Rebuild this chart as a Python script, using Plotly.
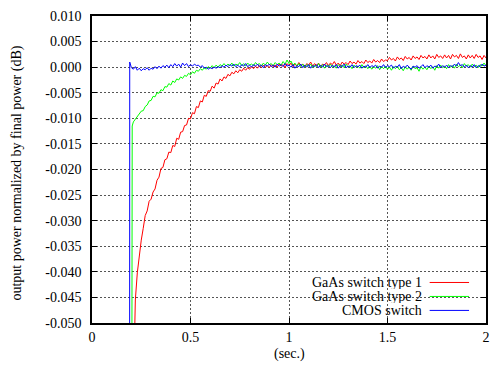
import numpy as np
import plotly.graph_objects as go

# common sample grid (s)
grid_t = list(np.round(np.arange(0.21, 2.0001, 0.01), 2))

# GaAs switch type 1 (red): onset + values on grid 0.22..2.00
gaas1_onset_t = [0.212]
gaas1_onset_v = [-0.0600]
gaas1_v = [
    -0.0455, -0.0402, -0.0368, -0.0338, -0.0315, -0.0290, -0.0281, -0.0262, -0.0258, -0.0244,
    -0.0238, -0.0221, -0.0215, -0.0198, -0.0196, -0.0181, -0.0179, -0.0166, -0.0167, -0.0153,
    -0.0155, -0.0139, -0.0141, -0.0127, -0.0126, -0.0114, -0.0113, -0.0100, -0.0101, -0.0089,
    -0.0091, -0.0077, -0.0079, -0.0066, -0.0068, -0.0055, -0.0057, -0.0046, -0.0047, -0.0037,
    -0.0041, -0.0031, -0.0033, -0.0023, -0.0027, -0.0019, -0.0022, -0.0014, -0.0017, -0.0010,
    -0.0013, -0.0007, -0.0011, -0.0005, -0.0008, -0.0002, -0.0006, -0.0001, -0.0004, 0.0001,
    -0.0003, 0.0002, -0.0002, 0.0003, -0.0001, 0.0004, 0.0000, 0.0003, -0.0001, 0.0005,
    0.0001, 0.0004, 0.0000, 0.0006, 0.0002, 0.0005, -0.0001, 0.0007, 0.0003, 0.0008,
    0.0001, 0.0006, 0.0002, 0.0009, 0.0003, 0.0006, 0.0000, 0.0007, 0.0004, 0.0010,
    0.0002, 0.0007, 0.0003, 0.0008, 0.0001, 0.0006, 0.0004, 0.0009, 0.0003, 0.0008,
    0.0005, 0.0011, 0.0004, 0.0008, 0.0003, 0.0010, 0.0006, 0.0009, 0.0005, 0.0012,
    0.0007, 0.0010, 0.0006, 0.0013, 0.0008, 0.0011, 0.0007, 0.0014, 0.0009, 0.0012,
    0.0008, 0.0015, 0.0010, 0.0013, 0.0009, 0.0016, 0.0011, 0.0014, 0.0013, 0.0019,
    0.0014, 0.0017, 0.0012, 0.0020, 0.0015, 0.0018, 0.0013, 0.0021, 0.0016, 0.0019,
    0.0014, 0.0022, 0.0017, 0.0020, 0.0015, 0.0023, 0.0018, 0.0021, 0.0016, 0.0024,
    0.0018, 0.0022, 0.0016, 0.0025, 0.0019, 0.0022, 0.0017, 0.0024, 0.0018, 0.0023,
    0.0016, 0.0025, 0.0020, 0.0023, 0.0017, 0.0026, 0.0019, 0.0022, 0.0016, 0.0024,
    0.0018, 0.0023, 0.0017, 0.0025, 0.0019, 0.0022, 0.0015, 0.0023, 0.0018,
]

# GaAs switch type 2 (green): onset + values on grid 0.21..2.00
gaas2_onset_t = [0.2025, 0.204]
gaas2_onset_v = [-0.0600, -0.0115]
gaas2_v = [
    -0.0107, -0.0102, -0.0095, -0.0092, -0.0086, -0.0085, -0.0077, -0.0074, -0.0066, -0.0065,
    -0.0057, -0.0058, -0.0050, -0.0051, -0.0044, -0.0046, -0.0038, -0.0039, -0.0032, -0.0035,
    -0.0027, -0.0030, -0.0023, -0.0025, -0.0019, -0.0022, -0.0016, -0.0018, -0.0012, -0.0015,
    -0.0009, -0.0012, -0.0006, -0.0008, -0.0003, -0.0006, -0.0001, -0.0004, 0.0001, -0.0002,
    0.0003, -0.0001, 0.0004, 0.0000, 0.0005, 0.0002, 0.0007, 0.0002, 0.0006, 0.0003,
    0.0008, 0.0002, 0.0006, 0.0004, 0.0009, 0.0003, 0.0007, 0.0002, 0.0008, 0.0004,
    0.0006, 0.0003, 0.0009, 0.0005, 0.0007, 0.0002, 0.0008, 0.0004, 0.0010, 0.0005,
    0.0007, 0.0003, 0.0009, 0.0005, 0.0008, 0.0004, 0.0011, 0.0006, 0.0014, 0.0007,
    0.0012, 0.0004, 0.0008, 0.0002, 0.0007, 0.0001, 0.0006, 0.0000, 0.0005, 0.0002,
    0.0006, -0.0001, 0.0004, 0.0001, 0.0007, 0.0000, 0.0005, -0.0002, 0.0004, 0.0001,
    0.0006, 0.0000, 0.0003, -0.0002, 0.0005, 0.0001, 0.0004, -0.0001, 0.0006, 0.0000,
    0.0003, -0.0003, 0.0004, 0.0000, 0.0002, -0.0002, 0.0005, -0.0001, 0.0003, -0.0003,
    0.0002, -0.0004, 0.0001, -0.0002, 0.0003, -0.0005, 0.0001, -0.0003, 0.0002, -0.0004,
    0.0000, -0.0006, 0.0001, -0.0003, 0.0002, -0.0005, -0.0001, -0.0007, 0.0001, -0.0004,
    0.0000, -0.0006, 0.0002, -0.0003, -0.0001, -0.0008, 0.0001, -0.0004, 0.0000, -0.0005,
    0.0002, -0.0003, 0.0001, -0.0006, 0.0003, -0.0002, 0.0004, -0.0001, 0.0002, -0.0003,
    0.0005, 0.0000, 0.0003, -0.0002, 0.0006, 0.0001, 0.0004, -0.0001, 0.0007, 0.0002,
    0.0005, 0.0000, 0.0006, 0.0001, 0.0004, -0.0001, 0.0005, 0.0002, 0.0008, 0.0003,
]

# CMOS switch (blue): onset + values on grid 0.21..2.00
cmos_onset_t = [0.191, 0.1915, 0.20]
cmos_onset_v = [-0.0600, 0.0010, -0.0001]
cmos_v = [
    -0.0004, 0.0001, -0.0006, -0.0002, -0.0007, -0.0003, -0.0005, -0.0001, -0.0006, -0.0002,
    -0.0004, 0.0001, -0.0003, 0.0002, -0.0002, 0.0003, 0.0000, 0.0004, -0.0001, 0.0005,
    0.0001, 0.0007, 0.0002, 0.0006, 0.0000, 0.0008, 0.0003, 0.0007, 0.0001, 0.0005,
    0.0002, 0.0006, 0.0003, 0.0004, 0.0000, 0.0003, -0.0002, 0.0000, -0.0004, -0.0001,
    -0.0003, 0.0000, -0.0002, 0.0001, -0.0001, 0.0003, 0.0000, 0.0004, 0.0001, 0.0005,
    0.0002, 0.0006, 0.0001, 0.0004, 0.0000, 0.0005, 0.0002, 0.0007, 0.0001, 0.0004,
    0.0000, 0.0005, 0.0002, 0.0006, 0.0001, 0.0004, -0.0001, 0.0005, 0.0002, 0.0006,
    0.0001, 0.0004, 0.0000, 0.0006, 0.0002, 0.0005, 0.0001, 0.0007, 0.0002, 0.0004,
    0.0000, 0.0005, -0.0002, 0.0003, 0.0001, 0.0006, -0.0001, 0.0004, 0.0000, 0.0005,
    -0.0002, 0.0003, 0.0001, 0.0005, -0.0001, 0.0004, 0.0000, 0.0006, 0.0001, 0.0003,
    -0.0001, 0.0004, 0.0000, 0.0005, -0.0002, 0.0003, 0.0001, 0.0006, -0.0001, 0.0002,
    0.0000, 0.0005, -0.0001, 0.0003, 0.0001, 0.0004, -0.0002, 0.0002, 0.0000, 0.0005,
    -0.0001, 0.0003, 0.0001, 0.0004, -0.0002, 0.0002, 0.0000, 0.0005, -0.0001, 0.0003,
    0.0001, 0.0004, -0.0002, 0.0002, 0.0000, 0.0005, -0.0003, 0.0002, -0.0001, 0.0004,
    0.0000, -0.0004, 0.0002, 0.0000, 0.0003, -0.0002, 0.0001, 0.0005, -0.0001, 0.0003,
    0.0000, 0.0004, -0.0002, 0.0002, 0.0001, 0.0006, -0.0001, 0.0003, 0.0000, 0.0004,
    -0.0001, 0.0003, 0.0001, 0.0006, 0.0002, 0.0009, 0.0003, 0.0005, 0.0000, 0.0004,
    -0.0001, 0.0003, 0.0000, 0.0005, -0.0001, 0.0003, 0.0001, 0.0006, 0.0002, 0.0004,
]

series_names = ["GaAs switch type 1", "GaAs switch type 2", "CMOS switch"]
series_colors = ["#ff0000", "#00ff00", "#0000ff"]

x_tickvals = [0, 0.5, 1, 1.5, 2]
x_ticktext = ["0", "0.5", "1", "1.5", "2"]
y_tickvals = [0.010, 0.005, 0.000, -0.005, -0.010, -0.015, -0.020, -0.025,
              -0.030, -0.035, -0.040, -0.045, -0.050]
y_ticktext = ["0.010", "0.005", "0.000", "-0.005", "-0.010", "-0.015", "-0.020",
              "-0.025", "-0.030", "-0.035", "-0.040", "-0.045", "-0.050"]

assert len(gaas1_v) == len(grid_t) - 1
assert len(gaas2_v) == len(grid_t)
assert len(cmos_v) == len(grid_t)

xs = [gaas1_onset_t + grid_t[1:], gaas2_onset_t + grid_t, cmos_onset_t + grid_t]
ys = [gaas1_onset_v + gaas1_v, gaas2_onset_v + gaas2_v, cmos_onset_v + cmos_v]

FONT = "'Liberation Serif', 'Times New Roman', 'DejaVu Serif', serif"

fig = go.Figure()
for x, y, n, c in zip(xs, ys, series_names, series_colors):
    fig.add_trace(go.Scatter(x=x, y=y, mode="lines", name=n,
                             line=dict(color=c, width=1), showlegend=False))

axis_common = dict(
    showline=True, linecolor="black", linewidth=1.5, mirror="allticks",
    ticks="inside", ticklen=5, tickcolor="black", tickwidth=1,
    showgrid=True, gridcolor="#555555", gridwidth=1, griddash="2px,2px",
    zeroline=False, tickfont=dict(family=FONT, size=14, color="black"),
)

fig.update_xaxes(range=[0, 2], tickvals=x_tickvals, ticktext=x_ticktext,
                 ticklabelstandoff=0, **axis_common)
fig.update_yaxes(range=[-0.05, 0.01], tickvals=y_tickvals, ticktext=y_ticktext,
                 ticklabelstandoff=6, **axis_common)

# legend background box (gnuplot-like key, opaque)
fig.add_shape(type="rect", xref="paper", yref="paper", x0=0.447, x1=0.985,
              y0=0.0, y1=0.16, fillcolor="white", line=dict(width=0),
              layer="between")

leg_y = [0.132, 0.0865, 0.041]
annotations = []
for n, c, yy in zip(series_names, series_colors, leg_y):
    annotations.append(dict(text=n, xref="paper", yref="paper", x=0.842, y=yy,
                            xanchor="right", yanchor="middle", showarrow=False,
                            height=14, font=dict(family=FONT, size=14, color="black")))
    fig.add_shape(type="line", xref="paper", yref="paper", x0=0.857, x1=0.957,
                  y0=yy, y1=yy, line=dict(color=c, width=1), layer="above")

annotations.append(dict(text="output power normalized by final power (dB)",
                        xref="paper", yref="paper", x=-0.191, y=0.489, textangle=-90,
                        xanchor="center", yanchor="middle", showarrow=False,
                        font=dict(family=FONT, size=14, color="black")))
annotations.append(dict(text="(sec.)", xref="paper", yref="paper", x=0.5, y=-0.101,
                        xanchor="center", yanchor="middle", showarrow=False,
                        font=dict(family=FONT, size=14, color="black")))

fig.update_layout(
    width=494, height=367,
    margin=dict(l=92, r=4, t=16, b=44),
    paper_bgcolor="white", plot_bgcolor="white",
    font=dict(family=FONT, size=14, color="black"),
    annotations=annotations,
    showlegend=False,
)

fig.write_html("out.html")
